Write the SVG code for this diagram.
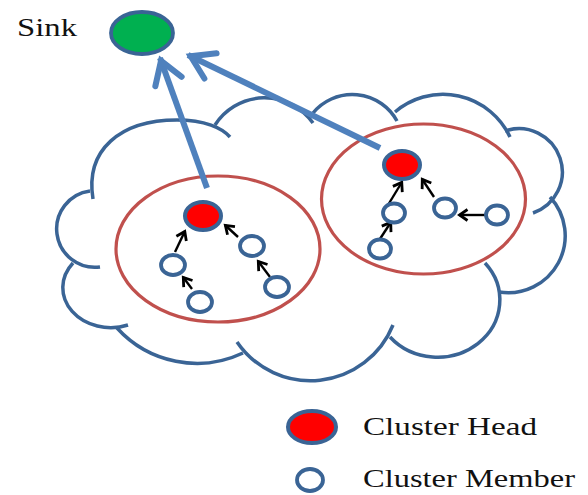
<svg xmlns="http://www.w3.org/2000/svg" width="588" height="495" viewBox="0 0 588 495">
<style>
.cloud{fill:none;stroke:#3A6495;stroke-width:3.5;stroke-linecap:butt}
.ring{fill:none;stroke:#C0504D;stroke-width:3.2}
.ch{fill:#FF0000;stroke:#3A6495;stroke-width:4}
.cm{fill:#FFFFFF;stroke:#3A6495;stroke-width:3.8}
.sink{fill:#00B050;stroke:#3A6495;stroke-width:3.8}
.big{fill:none;stroke:#4F81BD;stroke-width:6;marker-end:url(#bh)}
.small{fill:none;stroke:#000;stroke-width:2.4;marker-end:url(#sh)}
.lbl{font-family:"Liberation Serif","Times New Roman",serif;font-size:26px;fill:#111}
</style>
<defs>
<marker id="bh" markerUnits="userSpaceOnUse" markerWidth="10" markerHeight="10" refX="0" refY="0" orient="auto" overflow="visible">
<path d="M-25,-14 L-3,0 L-25,14" fill="none" stroke="#4F81BD" stroke-width="6" stroke-linejoin="miter" stroke-linecap="round"/>
</marker>
<marker id="sh" markerUnits="userSpaceOnUse" markerWidth="10" markerHeight="10" refX="0" refY="0" orient="auto" overflow="visible">
<path d="M-8.5,-5.5 L-0.5,0 L-8.5,5.5" fill="none" stroke="#000" stroke-width="2.8" stroke-linejoin="miter"/>
</marker>
</defs>
<rect width="588" height="495" fill="#fff"/>
<g id="cloud" class="cloud">
<path d="M90 191 A38 38 0 1 0 100 267"/>
<path d="M93 199 C 85 150, 120 120, 177 120 C 205 120, 222 128, 230 137"/>
<path d="M215 125 A59 59 0 0 1 313 123"/>
<path d="M313 113 A51 51 0 0 1 397 121"/>
<path d="M395 112 A74 74 0 0 1 510 137"/>
<path d="M505 131 A43 43 0 0 1 533 213"/>
<path d="M550 197 A57 57 0 0 1 499 292"/>
<path d="M485 263 A60 55 0 0 1 390 337"/>
<path d="M393 325 A89 89 0 0 1 237 342"/>
<path d="M243 353 A108 108 0 0 1 117 328"/>
<path d="M128 325 A48 40 0 0 1 73 263"/>
</g>
<g id="cluster-left-boundary"><ellipse class="ring" cx="218" cy="249" rx="102" ry="73"/></g>
<g id="cluster-right-boundary"><ellipse class="ring" cx="423.5" cy="199" rx="102" ry="75"/></g>
<g id="connectors">
<path class="big" d="M207 188 L160 58"/>
<path class="big" d="M380 148 L188 55"/>
<path class="small" d="M175 252 L185 231"/>
<path class="small" d="M192 289 L183 277"/>
<path class="small" d="M238 237 L225 225"/>
<path class="small" d="M270 277 L258 261"/>
<path class="small" d="M388 205 L402 182"/>
<path class="small" d="M378 242 L391 222"/>
<path class="small" d="M434 197 L422 179"/>
<path class="small" d="M486 215 L459 215"/>
</g>
<g id="sink"><ellipse class="sink" cx="142" cy="33" rx="31" ry="21"/><text class="lbl" x="17" y="36" textLength="60" lengthAdjust="spacingAndGlyphs">Sink</text></g>
<g id="ch-left"><ellipse class="ch" cx="203" cy="216" rx="18" ry="14"/></g>
<g id="ch-right"><ellipse class="ch" cx="402" cy="165" rx="18" ry="14"/></g>
<g id="m1"><ellipse class="cm" cx="173" cy="265" rx="12" ry="10"/></g>
<g id="m2"><ellipse class="cm" cx="200" cy="302" rx="12" ry="10"/></g>
<g id="m3"><ellipse class="cm" cx="252" cy="246" rx="12" ry="10"/></g>
<g id="m4"><ellipse class="cm" cx="277" cy="287" rx="12" ry="10"/></g>
<g id="m5"><ellipse class="cm" cx="394" cy="213" rx="11" ry="9.5"/></g>
<g id="m6"><ellipse class="cm" cx="380" cy="249" rx="11" ry="9.5"/></g>
<g id="m7"><ellipse class="cm" cx="445" cy="208" rx="11" ry="9.5"/></g>
<g id="m8"><ellipse class="cm" cx="497" cy="215" rx="11" ry="9.5"/></g>
<g id="legend-head"><ellipse class="ch" cx="312" cy="427" rx="24" ry="16"/><text class="lbl" x="363" y="435" textLength="174" lengthAdjust="spacingAndGlyphs">Cluster Head</text></g>
<g id="legend-member"><ellipse class="cm" cx="310" cy="480" rx="13" ry="11"/><text class="lbl" x="363" y="487" textLength="212" lengthAdjust="spacingAndGlyphs">Cluster Member</text></g>
</svg>
